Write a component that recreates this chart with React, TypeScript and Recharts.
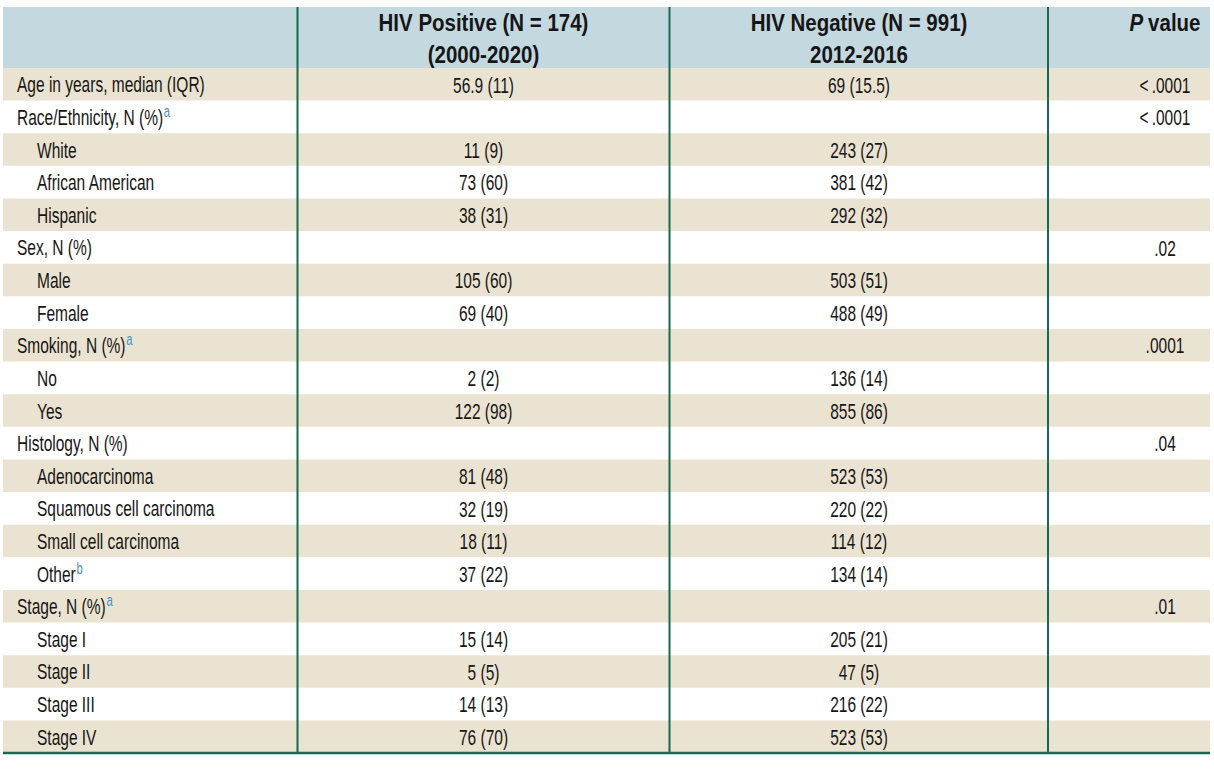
import React from 'react';
import { BarChart, Bar, XAxis, YAxis, Cell, LabelList, ReferenceLine } from 'recharts';

// table content
const rowLabels = [
  'Age in years, median (IQR)', 'Race/Ethnicity, N (%)', 'White', 'African American', 'Hispanic',
  'Sex, N (%)', 'Male', 'Female', 'Smoking, N (%)', 'No', 'Yes', 'Histology, N (%)',
  'Adenocarcinoma', 'Squamous cell carcinoma', 'Small cell carcinoma', 'Other',
  'Stage, N (%)', 'Stage I', 'Stage II', 'Stage III', 'Stage IV',
];
const rowIndent = [0, 0, 1, 1, 1, 0, 1, 1, 0, 1, 1, 0, 1, 1, 1, 1, 0, 1, 1, 1, 1];
const rowNotes = ['', 'a', '', '', '', '', '', '', 'a', '', '', '', '', '', '', 'b', 'a', '', '', '', ''];
const hivPositive = [
  '56.9 (11)', '', '11 (9)', '73 (60)', '38 (31)', '', '105 (60)', '69 (40)', '', '2 (2)', '122 (98)', '',
  '81 (48)', '32 (19)', '18 (11)', '37 (22)', '', '15 (14)', '5 (5)', '14 (13)', '76 (70)',
];
const hivNegative = [
  '69 (15.5)', '', '243 (27)', '381 (42)', '292 (32)', '', '503 (51)', '488 (49)', '', '136 (14)', '855 (86)', '',
  '523 (53)', '220 (22)', '114 (12)', '134 (14)', '', '205 (21)', '47 (5)', '216 (22)', '523 (53)',
];
const pValues = [
  '<\u2009.0001', '<\u2009.0001', '', '', '', '.02', '', '', '.0001', '', '', '.04',
  '', '', '', '', '.01', '', '', '', '',
];
const headerTop = ['', 'HIV Positive (N = 174)', 'HIV Negative (N = 991)', 'value'];
const headerBottom = ['', '(2000-2020)', '2012-2016', ''];

// layout
const LEFT = 3;
const TOP = 7;
const HEAD_H = 61;
const TABLE_W = 1207;
const DIVIDERS = [294.5, 666.5, 1045];
const COL_CENTERS = [147, 480.5, 856, 1162];

const FONT = "'Liberation Sans', Arial, sans-serif";
const BODY_SIZE = 22;
const BODY_SX = 0.705;
const HEAD_SIZE = 23;
const HEAD_SX = 0.89;
const GREEN = '#17694f';
const BEIGE = '#ebe3d1';
const HEAD_BG = '#c4d8e0';
const INK = '#161616';
const NOTE = '#4b92bd';

const data = rowLabels.map((label, i) => ({
  label,
  band: TABLE_W,
  pos: hivPositive[i],
  neg: hivNegative[i],
  p: pValues[i],
}));

const RowTick = (props: any) => {
  const { y, payload } = props;
  const i = rowLabels.indexOf(payload.value);
  const x = LEFT + 14 + rowIndent[i] * 20;
  return (
    <text
      transform={`translate(${x},${y + 8}) scale(${BODY_SX},1)`}
      fontFamily={FONT}
      fontSize={BODY_SIZE}
      fill={INK}
    >
      {payload.value}
      {rowNotes[i] && (
        <tspan dx={1} dy={-8} fontSize={16} fill={NOTE}>{rowNotes[i]}</tspan>
      )}
    </text>
  );
};

const HeaderTick = (props: any) => {
  const { payload } = props;
  const i = COL_CENTERS.indexOf(payload.value);
  const x = LEFT + payload.value;
  return (
    <g>
      {i === 0 && (
        <g>
          <rect x={LEFT} y={TOP} width={TABLE_W} height={HEAD_H} fill={HEAD_BG} />
          {DIVIDERS.map((d) => (
            <line key={d} x1={LEFT + d} x2={LEFT + d} y1={TOP} y2={TOP + HEAD_H} stroke={GREEN} strokeWidth={2} />
          ))}
        </g>
      )}
      {headerTop[i] && (
        <text
          transform={`translate(${x},${TOP + 24}) scale(${HEAD_SX},1)`}
          textAnchor="middle"
          fontFamily={FONT}
          fontSize={HEAD_SIZE}
          fontWeight="bold"
          fill={INK}
        >
          {i === 3 && <tspan fontStyle="italic">P </tspan>}
          {headerTop[i]}
        </text>
      )}
      {headerBottom[i] && (
        <text
          transform={`translate(${x},${TOP + 56}) scale(${HEAD_SX},1)`}
          textAnchor="middle"
          fontFamily={FONT}
          fontSize={HEAD_SIZE}
          fontWeight="bold"
          fill={INK}
        >
          {headerBottom[i]}
        </text>
      )}
    </g>
  );
};

const renderCell = (props: any, col: number) => {
  const { value } = props;
  if (!value) return null;
  const vb = props.viewBox || props;
  const cy = vb.y + vb.height / 2;
  const x = LEFT + COL_CENTERS[col];
  return (
    <text
      key={`${col}-${cy}`}
      transform={`translate(${x},${cy + 8}) scale(${BODY_SX},1)`}
      textAnchor="middle"
      fontFamily={FONT}
      fontSize={BODY_SIZE}
      fill={INK}
    >
      {value}
    </text>
  );
};

export default function App() {
  return (
    <div style={{ position: 'absolute', left: 0, top: 0, background: '#fff' }}>
      <BarChart
        width={1214}
        height={774}
        data={data}
        layout="vertical"
        barCategoryGap={0}
        margin={{ top: TOP, right: 4, bottom: 19, left: LEFT }}
      >
        <XAxis
          xAxisId="top"
          orientation="top"
          type="number"
          domain={[0, TABLE_W]}
          ticks={COL_CENTERS}
          interval={0}
          height={HEAD_H}
          axisLine={false}
          tickLine={false}
          tick={<HeaderTick />}
        />
        <YAxis
          type="category"
          dataKey="label"
          mirror
          interval={0}
          axisLine={false}
          tickLine={false}
          tick={<RowTick />}
        />
        <Bar dataKey="band" xAxisId="top" isAnimationActive={false}>
          {data.map((_, i) => (
            <Cell key={i} fill={i % 2 === 0 ? BEIGE : '#ffffff'} />
          ))}
          <LabelList dataKey="pos" content={(p: any) => renderCell(p, 1)} />
          <LabelList dataKey="neg" content={(p: any) => renderCell(p, 2)} />
          <LabelList dataKey="p" content={(p: any) => renderCell(p, 3)} />
        </Bar>
        {DIVIDERS.map((d) => (
          <ReferenceLine key={d} x={d} xAxisId="top" stroke={GREEN} strokeWidth={2} />
        ))}
        <XAxis
          xAxisId="bottom"
          orientation="bottom"
          type="number"
          domain={[0, TABLE_W]}
          height={2}
          tick={false}
          tickLine={false}
          axisLine={{ stroke: GREEN, strokeWidth: 2.5 }}
        />
      </BarChart>
    </div>
  );
}
